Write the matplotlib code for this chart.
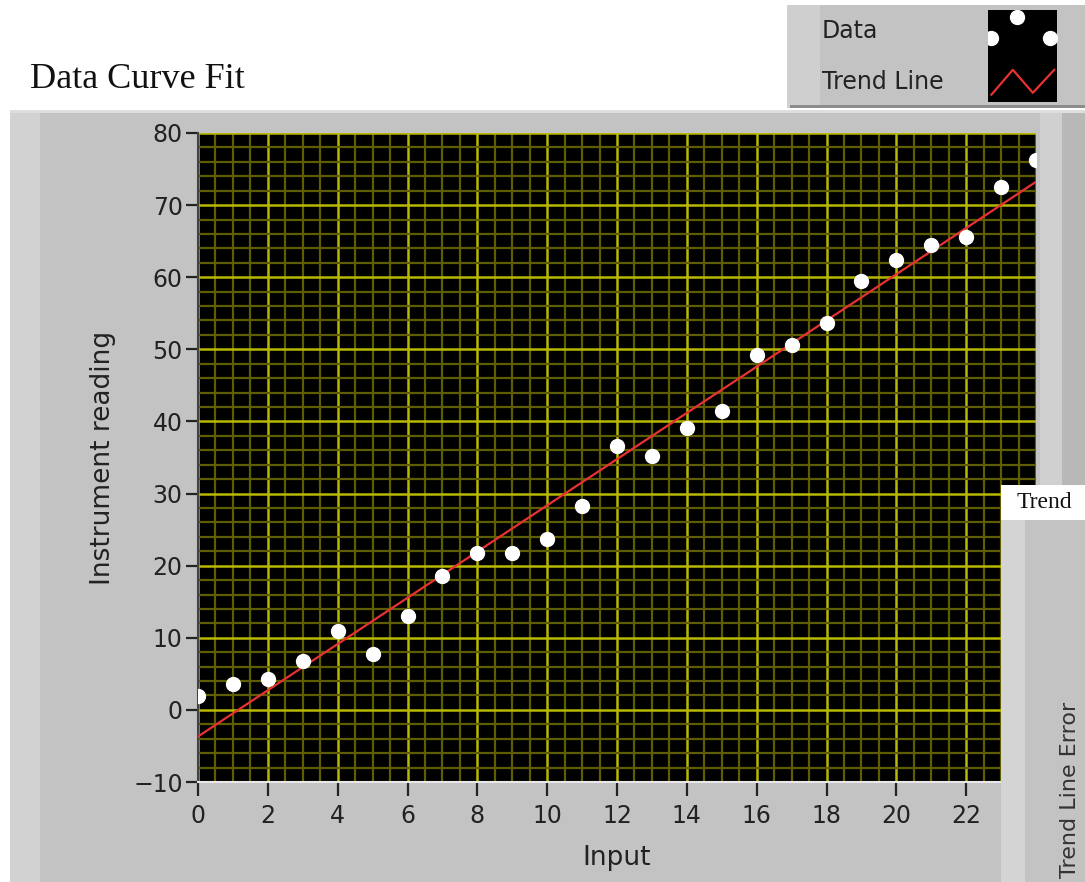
import numpy as np
import matplotlib.pyplot as plt
from matplotlib.patches import Rectangle

plt.rcParams['font.family'] = ['DejaVu Sans']

# measured instrument readings
x_input = np.arange(0, 25)
y_reading = [1.9, 3.6, 4.3, 6.8, 11.0, 7.8, 13.0, 18.6, 21.8, 21.8,
             23.7, 28.3, 36.6, 35.2, 39.1, 41.5, 49.2, 50.6, 53.7, 59.5,
             62.4, 64.5, 65.6, 72.5, 76.3]
x_ticks = list(range(0, 23, 2))
y_ticks = list(range(-10, 81, 10))

# linear trend line (least squares)
slope, icpt = np.polyfit(x_input, y_reading, 1)
x_fit = np.array([0, 24])
y_fit = slope * x_fit + icpt

W, H = 1085, 882
fig = plt.figure(figsize=(W / 100, H / 100), dpi=100)
fig.patch.set_facecolor('white')

def px(x0, y0, x1, y1):
    # pixel box (top-left origin) -> figure fraction rect
    return (x0 / W, 1 - y1 / H, (x1 - x0) / W, (y1 - y0) / H)

def box(x0, y0, x1, y1, color, z):
    l, b, w, h = px(x0, y0, x1, y1)
    fig.patches.append(Rectangle((l, b), w, h, transform=fig.transFigure,
                                 facecolor=color, edgecolor='none', zorder=z))

# gray graph panel
box(10, 110, 1085, 882, '#c3c3c3', -3)
box(10, 110, 40, 882, '#d2d2d2', -2)
box(10, 110, 1085, 113, '#dedede', -2)
box(1040, 113, 1062, 485, '#d0d0d0', -2)
box(1062, 113, 1085, 485, '#b8b8b8', -2)

fig.text(30 / W, 1 - 80 / H, 'Data Curve Fit', family='Liberation Serif',
         fontsize=26, va='center', ha='left', color='#111111')

ax = fig.add_axes(px(198, 133, 1036, 782))
ax.set_facecolor('black')
ax.set_xlim(0, 24)
ax.set_ylim(-10, 80)
ax.set_xticks(x_ticks)
ax.set_yticks(y_ticks)
ax.set_xticks(np.arange(0, 24.01, 0.5), minor=True)
ax.set_yticks(np.arange(-10, 80.01, 2), minor=True)
ax.grid(which='minor', color='#5e5e00', lw=1.6, zorder=0)
ax.grid(which='major', color='#b8b800', lw=1.8, zorder=0)
ax.set_axisbelow(True)
ax.tick_params(which='minor', length=0)
ax.tick_params(which='major', direction='out', length=9, width=1.6,
               color='#222222', labelsize=17, labelcolor='#222222', pad=2)
ax.tick_params(axis='x', which='major', length=10, pad=6)
ax.set_xticklabels([str(v) for v in x_ticks])
ax.set_yticklabels([str(v).replace('-', '\u2212') for v in y_ticks])
for s in ['top', 'right']:
    ax.spines[s].set_visible(False)
ax.spines['left'].set_color('#444444')
ax.spines['left'].set_linewidth(1.5)
ax.spines['bottom'].set_color('#e8e8e8')
ax.spines['bottom'].set_linewidth(1.5)

ax.plot(x_fit, y_fit, color='#e83232', lw=1.6, zorder=3, clip_on=True)
ax.plot(x_input, y_reading, 'o', color='white', ms=10, mec='white',
        zorder=4, clip_on=True)

ax.set_xlabel('Input', fontsize=19, color='#222222', labelpad=12)
ax.set_ylabel('Instrument reading', fontsize=19, color='#222222', labelpad=12)

# legend panel (top right)
box(787, 5, 1085, 108, '#c3c3c3', 1)
box(787, 5, 820, 108, '#cfcfcf', 1)
box(790, 105, 1085, 108, '#8c8c8c', 1)
fig.text(822 / W, 1 - 31 / H, 'Data', fontsize=17, va='center', color='#222222', zorder=3)
fig.text(822 / W, 1 - 82 / H, 'Trend Line', fontsize=17, va='center', color='#222222', zorder=3)
lg = fig.add_axes(px(988, 10, 1057, 102))
lg.set_zorder(5)
lg.set_facecolor('black')
lg.set_xlim(0, 1)
lg.set_ylim(0, 1)
lg.set_xticks([])
lg.set_yticks([])
for s in lg.spines.values():
    s.set_visible(False)
lg.plot([0.05, 0.42, 0.9], [0.7, 0.92, 0.7], 'o', color='white', ms=10, clip_on=True)
lg.plot([0.05, 0.36, 0.65, 0.96], [0.08, 0.35, 0.1, 0.35], color='#e83232', lw=1.6)

# right side "Trend Line Error" panel covering the graph corner
box(1001, 485, 1085, 520, 'white', 2)
box(1001, 520, 1085, 882, '#c3c3c3', 2)
box(1001, 520, 1025, 882, '#d4d4d4', 2)
fig.text(1017 / W, 1 - 502 / H, 'Trend', family='Liberation Serif', fontsize=17,
         va='center', ha='left', color='#111111', zorder=4)
fig.text(1070 / W, 1 - 790 / H, 'Trend Line Error', fontsize=16, rotation=90,
         va='center', ha='center', color='#333333', zorder=4)

fig.savefig('out.png', dpi=100)
